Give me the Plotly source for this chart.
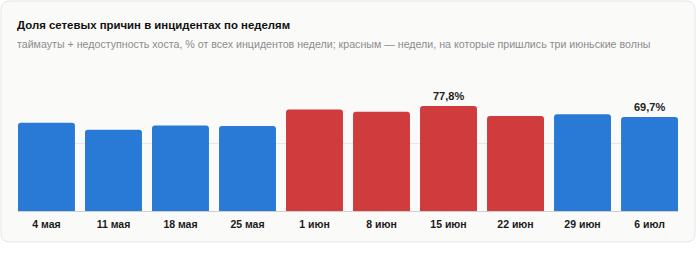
import plotly.graph_objects as go

weeks = ["4 мая", "11 мая", "18 мая", "25 мая", "1 июн", "8 июн", "15 июн", "22 июн", "29 июн", "6 июл"]
share_pct = [65.4, 60.2, 63.4, 62.9, 75.1, 73.6, 77.8, 70.4, 71.6, 69.7]
june_wave = [False, False, False, False, True, True, True, True, False, False]
labeled = ["15 июн", "6 июл"]

BLUE = "#2979d6"
RED = "#d03b3d"
colors = [RED if w else BLUE for w in june_wave]

W, H = 700, 267
ML, MR, MT, MB = 18, 22, 76, 56
PW, PH = W - ML - MR, H - MT - MB

def px_x(x):
    return (x - ML) / PW

def px_y(y):
    return (H - MB - y) / PH

fig = go.Figure()
fig.add_trace(go.Bar(x=weeks, y=share_pct, marker=dict(color=colors, line=dict(width=0)),
                     hoverinfo="skip"))

# card background
x0, x1, y0, y1, r = 1, 695, 1, 242, 9
path = (f"M {px_x(x0+r)},{px_y(y0)} L {px_x(x1-r)},{px_y(y0)} "
        f"Q {px_x(x1)},{px_y(y0)} {px_x(x1)},{px_y(y0+r)} "
        f"L {px_x(x1)},{px_y(y1-r)} Q {px_x(x1)},{px_y(y1)} {px_x(x1-r)},{px_y(y1)} "
        f"L {px_x(x0+r)},{px_y(y1)} Q {px_x(x0)},{px_y(y1)} {px_x(x0)},{px_y(y1-r)} "
        f"L {px_x(x0)},{px_y(y0+r)} Q {px_x(x0)},{px_y(y0)} {px_x(x0+r)},{px_y(y0)} Z")
fig.add_shape(type="path", path=path, xref="paper", yref="paper", layer="below",
              fillcolor="#fafaf9", line=dict(color="#e6e6e4", width=1))

for wk, v in zip(weeks, share_pct):
    if wk in labeled:
        fig.add_annotation(x=wk, y=v, text=f"{v:.1f}%".replace(".", ","), showarrow=False,
                           yanchor="bottom", yshift=2,
                           font=dict(family="Liberation Sans", size=11, color="#222222", weight="bold"))

fig.add_annotation(x=px_x(15), y=px_y(25), xref="paper", yref="paper", xanchor="left", yanchor="middle",
                   text="Доля сетевых причин в инцидентах по неделям", showarrow=False,
                   font=dict(family="Liberation Sans", size=11.4, color="#111111", weight="bold"))
fig.add_annotation(x=px_x(15), y=px_y(43.5), xref="paper", yref="paper", xanchor="left", yanchor="middle",
                   text="таймауты + недоступность хоста, % от всех инцидентов недели; красным — недели, на которые пришлись три июньские волны",
                   showarrow=False,
                   font=dict(family="Liberation Sans", size=10.65, color="#8c8c8c"))

fig.update_layout(
    width=W, height=H, margin=dict(l=ML, r=MR, t=MT, b=MB),
    paper_bgcolor="white", plot_bgcolor="rgba(0,0,0,0)",
    bargap=0.15, barcornerradius=3, showlegend=False,
    xaxis=dict(range=[-0.425, 9.425], showgrid=False, ticks="", showline=False, ticklabelstandoff=5,
               tickfont=dict(family="Liberation Sans", size=10.5, color="#1a1a1a", weight="bold")),
    yaxis=dict(range=[0, 100], dtick=50, showticklabels=False, gridcolor="#e7e7e5", gridwidth=1,
               zeroline=True, zerolinecolor="#cfcfcd", zerolinewidth=1),
)

fig.write_html("out.html")
